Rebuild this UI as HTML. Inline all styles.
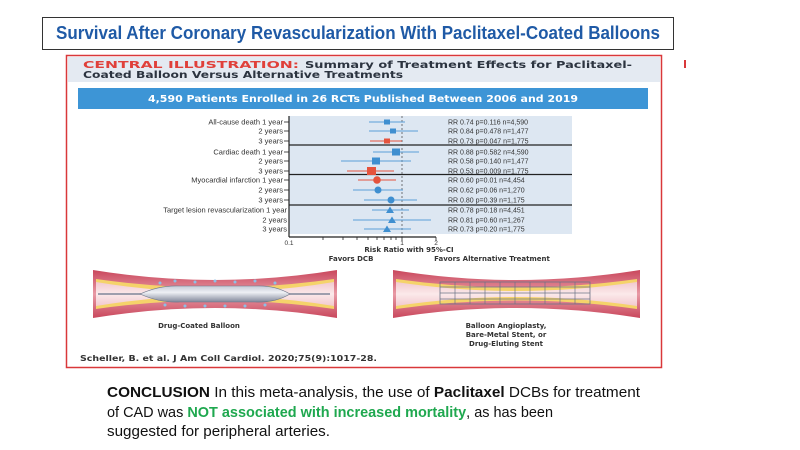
<!DOCTYPE html>
<html><head><meta charset="utf-8"><style>
html,body{margin:0;padding:0;background:#fff;width:800px;height:450px;overflow:hidden}
svg{display:block}
</style></head><body>
<svg width="800" height="450" viewBox="0 0 800 450" xmlns="http://www.w3.org/2000/svg" font-family="Liberation Sans, sans-serif">
<defs>
<linearGradient id="wall" x1="0" y1="0" x2="0" y2="1">
<stop offset="0" stop-color="#c9475c"/><stop offset="0.5" stop-color="#e89aa5"/><stop offset="1" stop-color="#c9475c"/></linearGradient>
<linearGradient id="lumen" x1="0" y1="0" x2="0" y2="1">
<stop offset="0" stop-color="#f2c9cf"/><stop offset="0.5" stop-color="#fbe9ea"/><stop offset="1" stop-color="#f2c9cf"/></linearGradient>
<linearGradient id="bal" x1="0" y1="0" x2="0" y2="1">
<stop offset="0" stop-color="#c5cad6"/><stop offset="0.4" stop-color="#eef0f5"/><stop offset="1" stop-color="#7f8699"/></linearGradient>
</defs>
<rect x="42.5" y="17.5" width="631" height="32" fill="#fff" stroke="#333" stroke-width="1"/>
<text x="358" y="39" text-anchor="middle" font-size="18" font-weight="bold" fill="#1f5aa6" textLength="604" lengthAdjust="spacingAndGlyphs">Survival After Coronary Revascularization With Paclitaxel-Coated Balloons</text>
<rect x="66.5" y="55.5" width="595" height="312" fill="#fff" stroke="#d9383a" stroke-width="1.5"/>
<rect x="68" y="57" width="592" height="25" fill="#e4eaf2"/>
<rect x="684" y="60" width="2" height="8" fill="#d9383a"/>
<g font-family="DejaVu Sans, sans-serif" font-weight="bold" font-size="9.5">
<text x="83" y="68" fill="#e0403a" textLength="216" lengthAdjust="spacingAndGlyphs">CENTRAL ILLUSTRATION:</text>
<text x="305" y="68" fill="#2c3440" textLength="327" lengthAdjust="spacingAndGlyphs">Summary of Treatment Effects for Paclitaxel-</text>
<text x="83" y="78" fill="#2c3440" textLength="320" lengthAdjust="spacingAndGlyphs">Coated Balloon Versus Alternative Treatments</text>
</g>
<rect x="78" y="88" width="570" height="21" fill="#3d95d6"/>
<text x="363" y="102" text-anchor="middle" font-family="DejaVu Sans, sans-serif" font-size="9.5" font-weight="bold" fill="#fff" textLength="430" lengthAdjust="spacingAndGlyphs">4,590 Patients Enrolled in 26 RCTs Published Between 2006 and 2019</text>
<rect x="289" y="116" width="283" height="118" fill="#dde7f2"/>
<g stroke="#222" stroke-width="1.2">
<line x1="289" y1="145" x2="572" y2="145"/><line x1="289" y1="174.5" x2="572" y2="174.5"/><line x1="289" y1="205" x2="572" y2="205"/>
<line x1="289" y1="116" x2="289" y2="237"/><line x1="289" y1="237" x2="436" y2="237"/>
</g>
<line x1="402" y1="116" x2="402" y2="237" stroke="#555" stroke-width="0.8" stroke-dasharray="2,2"/>
<g stroke="#222" stroke-width="0.8">
<line x1="323" y1="237" x2="323" y2="240"/><line x1="343" y1="237" x2="343" y2="240"/><line x1="357" y1="237" x2="357" y2="240"/><line x1="368" y1="237" x2="368" y2="240"/><line x1="377" y1="237" x2="377" y2="240"/><line x1="384" y1="237" x2="384" y2="240"/><line x1="391" y1="237" x2="391" y2="240"/><line x1="396" y1="237" x2="396" y2="240"/><line x1="402" y1="237" x2="402" y2="241"/><line x1="436" y1="237" x2="436" y2="241"/>
<line x1="284" y1="122" x2="289" y2="122"/><line x1="284" y1="131" x2="289" y2="131"/><line x1="284" y1="141" x2="289" y2="141"/><line x1="284" y1="152" x2="289" y2="152"/><line x1="284" y1="161" x2="289" y2="161"/><line x1="284" y1="171" x2="289" y2="171"/><line x1="284" y1="180" x2="289" y2="180"/><line x1="284" y1="190" x2="289" y2="190"/><line x1="284" y1="200" x2="289" y2="200"/>
</g>
<g font-size="7.5" fill="#333" text-anchor="end">
<text x="283" y="124.5">All-cause death 1 year</text>
<text x="283" y="133.5">2 years</text>
<text x="283" y="143.5">3 years</text>
<text x="283" y="154.5">Cardiac death 1 year</text>
<text x="283" y="163.5">2 years</text>
<text x="283" y="173.5">3 years</text>
<text x="283" y="182.5">Myocardial infarction 1 year</text>
<text x="283" y="192.5">2 years</text>
<text x="283" y="202.5">3 years</text>
<text x="287" y="212.5">Target lesion revascularization 1 year</text>
<text x="287" y="222.5">2 years</text>
<text x="287" y="231.5">3 years</text>
</g>
<g font-size="6.5" fill="#333" text-anchor="middle">
<text x="289" y="245">0.1</text><text x="402" y="245">1</text><text x="436" y="245">2</text>
</g>
<g font-size="7" fill="#333">
<text x="448" y="124.5">RR 0.74  p=0.116  n=4,590</text>
<text x="448" y="133.5">RR 0.84  p=0.478  n=1,477</text>
<text x="448" y="143.5">RR 0.73  p=0.047  n=1,775</text>
<text x="448" y="154.5">RR 0.88  p=0.582  n=4,590</text>
<text x="448" y="163.5">RR 0.58  p=0.140  n=1,477</text>
<text x="448" y="173.5">RR 0.53  p=0.009  n=1,775</text>
<text x="448" y="182.5">RR 0.60  p=0.01  n=4,454</text>
<text x="448" y="192.5">RR 0.62  p=0.06  n=1,270</text>
<text x="448" y="202.5">RR 0.80  p=0.39  n=1,175</text>
<text x="448" y="212.5">RR 0.78  p=0.18  n=4,451</text>
<text x="448" y="222.5">RR 0.81  p=0.60  n=1,267</text>
<text x="448" y="231.5">RR 0.73  p=0.20  n=1,775</text>
</g>
<g stroke-width="1">
<g stroke="#5a9fd8"><line x1="369" y1="122" x2="405" y2="122"/><line x1="369" y1="131" x2="418" y2="131"/><line x1="373" y1="152" x2="419" y2="152"/><line x1="341" y1="161" x2="411" y2="161"/><line x1="353" y1="190" x2="403" y2="190"/><line x1="364" y1="200" x2="417" y2="200"/><line x1="372" y1="210" x2="409" y2="210"/><line x1="353" y1="220" x2="431" y2="220"/><line x1="364" y1="229" x2="411" y2="229"/></g>
<g stroke="#e5533d"><line x1="370" y1="141" x2="402" y2="141"/><line x1="347" y1="171" x2="394" y2="171"/><line x1="358" y1="180" x2="396" y2="180"/></g>
</g>
<g fill="#3f8fd0">
<rect x="384" y="119.5" width="6" height="5"/><rect x="390" y="128.5" width="6" height="5"/><rect x="392" y="148.5" width="8" height="7"/><rect x="372" y="157.5" width="8" height="7"/>
<circle cx="378" cy="190" r="3.5"/><circle cx="391" cy="200" r="3.5"/>
<polygon points="390,206.5 394,213 386,213"/><polygon points="392,216.5 396,223 388,223"/><polygon points="387,225.5 391,232 383,232"/>
</g>
<g fill="#e5533d">
<rect x="384" y="138.5" width="6" height="5"/><rect x="367" y="167" width="9" height="8"/><circle cx="377" cy="180" r="3.8"/>
</g>
<g font-family="DejaVu Sans, sans-serif" font-weight="bold" font-size="7" fill="#333" text-anchor="middle">
<text x="409" y="252">Risk Ratio with 95%-CI</text>
<text x="351" y="261">Favors DCB</text>
<text x="492" y="261">Favors Alternative Treatment</text>
</g>
<path d="M93,270 Q215,290 337,270 L337,318 Q215,298 93,318 Z" fill="url(#wall)"/>
<path d="M96,279 Q215,296 334,279 L334,309 Q215,292 96,309 Z" fill="#f5d36a"/>
<path d="M96,282 Q215,302 334,282 L334,306 Q215,286 96,306 Z" fill="url(#lumen)"/>
<line x1="98" y1="294" x2="330" y2="294" stroke="#7f8699" stroke-width="1.5"/>
<path d="M140,294 Q160,285 180,286 L255,286 Q275,285 290,294 Q275,303 255,302 L180,302 Q160,303 140,294 Z" fill="url(#bal)" stroke="#6e7588" stroke-width="0.6"/>
<g fill="#8cc0e6"><circle cx="160" cy="283" r="1.5"/><circle cx="175" cy="281" r="1.5"/><circle cx="195" cy="282" r="1.5"/><circle cx="215" cy="281" r="1.5"/><circle cx="235" cy="282" r="1.5"/><circle cx="255" cy="281" r="1.5"/><circle cx="275" cy="283" r="1.5"/><circle cx="165" cy="305" r="1.5"/><circle cx="185" cy="306" r="1.5"/><circle cx="205" cy="306" r="1.5"/><circle cx="225" cy="306" r="1.5"/><circle cx="245" cy="306" r="1.5"/><circle cx="265" cy="305" r="1.5"/></g>
<path d="M393,270 Q516,290 640,270 L640,318 Q516,298 393,318 Z" fill="url(#wall)"/>
<path d="M396,279 Q516,296 637,279 L637,309 Q516,292 396,309 Z" fill="#f5d36a"/>
<path d="M396,282 Q516,300 637,282 L637,306 Q516,288 396,306 Z" fill="url(#lumen)"/>
<rect x="440" y="282" width="150" height="22" fill="none" stroke="#6c7486" stroke-width="0.8"/>
<g stroke="#6c7486" stroke-width="0.7">
<line x1="440" y1="287" x2="590" y2="287"/><line x1="440" y1="293" x2="590" y2="293"/><line x1="440" y1="299" x2="590" y2="299"/>
<line x1="455" y1="282" x2="455" y2="304"/><line x1="470" y1="282" x2="470" y2="304"/><line x1="485" y1="282" x2="485" y2="304"/><line x1="500" y1="282" x2="500" y2="304"/><line x1="515" y1="282" x2="515" y2="304"/><line x1="530" y1="282" x2="530" y2="304"/><line x1="545" y1="282" x2="545" y2="304"/><line x1="560" y1="282" x2="560" y2="304"/><line x1="575" y1="282" x2="575" y2="304"/>
</g>
<g font-family="DejaVu Sans, sans-serif" font-weight="bold" font-size="7" fill="#333" text-anchor="middle">
<text x="199" y="328">Drug-Coated Balloon</text>
<text x="506" y="328">Balloon Angioplasty,</text>
<text x="506" y="337">Bare-Metal Stent, or</text>
<text x="506" y="346">Drug-Eluting Stent</text>
</g>
<text x="80" y="361" font-family="DejaVu Sans, sans-serif" font-size="8" font-weight="bold" fill="#333" textLength="297" lengthAdjust="spacingAndGlyphs">Scheller, B. et al. J Am Coll Cardiol. 2020;75(9):1017-28.</text>
<g font-size="15" fill="#111">
<text x="107" y="397" textLength="533" lengthAdjust="spacingAndGlyphs"><tspan font-weight="bold">CONCLUSION</tspan> In this meta-analysis, the use of <tspan font-weight="bold">Paclitaxel</tspan> DCBs for treatment</text>
<text x="107" y="417" textLength="446" lengthAdjust="spacingAndGlyphs">of CAD was <tspan font-weight="bold" fill="#1fa84f">NOT associated with increased mortality</tspan>, as has been</text>
<text x="107" y="436" textLength="223" lengthAdjust="spacingAndGlyphs">suggested for peripheral arteries.</text>
</g>
</svg>
</body></html>
